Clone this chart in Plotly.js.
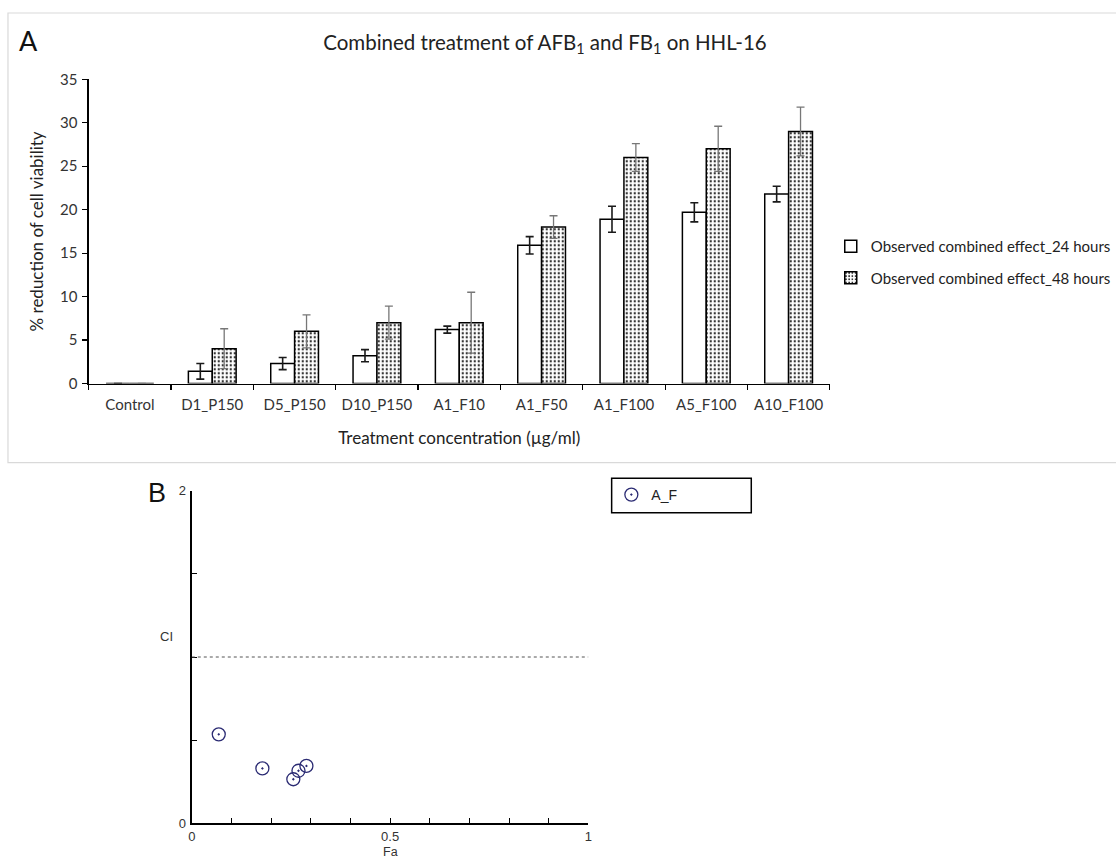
<!DOCTYPE html>
<html>
<head>
<meta charset="utf-8">
<script src="https://cdn.plot.ly/plotly-3.0.1.min.js"></script>
<style>
  html, body { margin: 0; padding: 0; background: #fff; }
  #chart { width: 1116px; height: 862px; }
</style>
</head>
<body>
<div id="chart"></div>
<script>
// ---- Panel A data ----
var categories = ["Control", "D1_P150", "D5_P150", "D10_P150", "A1_F10", "A1_F50", "A1_F100", "A5_F100", "A10_F100"];
var values24h = [0, 1.4, 2.3, 3.2, 6.2, 15.9, 18.9, 19.7, 21.8];
var errors24h = [0, 0.9, 0.7, 0.7, 0.4, 1.0, 1.5, 1.1, 0.9];
var values48h = [0, 4.0, 6.0, 7.0, 7.0, 18.0, 26.0, 27.0, 29.0];
var errors48h = [0, 2.3, 1.9, 1.9, 3.5, 1.3, 1.6, 2.6, 2.8];
var seriesNames = ["Observed combined effect_24 hours", "Observed combined effect_48 hours"];

// ---- Panel B data ----
var faValues = [0.068, 0.178, 0.256, 0.269, 0.289];
var ciValues = [0.535, 0.33, 0.265, 0.316, 0.345];
var seriesB = "A_F";
var xTicksB = [0, 0.1, 0.2, 0.3, 0.4, 0.5, 0.6, 0.7, 0.8, 0.9, 1];
var xTickTextB = ["0", " ", " ", " ", " ", "0.5", " ", " ", " ", " ", "1"];
var yTicksB = [0, 0.5, 1, 1.5, 2];
var yTickTextB = ["0", " ", " ", " ", "2"];

var W = 1116, H = 862;
function px(x) { return x / W; }
function py(y) { return 1 - y / H; }

var fontA = "Lato, 'Open Sans', sans-serif";
var fontB = "'Liberation Sans', Arial, sans-serif";

var traces = [
  {
    type: "bar", name: seriesNames[0], x: categories, y: values24h,
    xaxis: "x", yaxis: "y", legend: "legend", legendgroup: "g1",
    marker: { color: "#ffffff", line: { color: "#000000", width: 1.5 } },
    error_y: { type: "data", array: errors24h, visible: true, color: "#1a1a1a", thickness: 1.6, width: 4 },
    hoverinfo: "x+y"
  },
  {
    type: "bar", name: seriesNames[1], x: categories, y: values48h,
    xaxis: "x", yaxis: "y", legend: "legend", legendgroup: "g2",
    marker: {
      color: "#ffffff",
      line: { color: "#000000", width: 1.5 },
      pattern: { shape: ".", fgcolor: "#222222", bgcolor: "#ffffff", size: 4, solidity: 0.25 }
    },
    error_y: { type: "data", array: errors48h, visible: true, color: "#777777", thickness: 1.3, width: 4 },
    hoverinfo: "x+y"
  },
  {
    type: "scatter", mode: "markers", name: seriesB, x: faValues, y: ciValues,
    xaxis: "x2", yaxis: "y2", legend: "legend2",
    marker: { symbol: "circle-open-dot", size: 13, color: "#2b2b73", line: { width: 1.3, color: "#2b2b73" } }
  }
];

var layout = {
  width: W, height: H,
  margin: { l: 0, r: 0, t: 0, b: 0 },
  paper_bgcolor: "#ffffff",
  plot_bgcolor: "rgba(0,0,0,0)",
  barmode: "group",
  bargap: 0.42,
  bargroupgap: 0,
  title: {
    text: "Combined treatment of AFB<sub>1</sub> and FB<sub>1</sub> on HHL-16",
    x: px(545), y: py(43), xanchor: "center", yanchor: "middle",
    font: { family: fontA, size: 20.5, color: "#222222" }
  },
  xaxis: {
    domain: [px(89), px(832)], anchor: "y", type: "category",
    showline: true, linecolor: "#000000", linewidth: 1.3,
    ticks: "outside", tickson: "boundaries", ticklen: 5, tickcolor: "#000000", tickwidth: 1.2,
    ticklabelstandoff: 7,
    showgrid: false, zeroline: false,
    tickfont: { family: fontA, size: 15, color: "#333333" },
    title: { text: "Treatment concentration (µg/ml)", font: { family: fontA, size: 17, color: "#222222" }, standoff: 20 }
  },
  yaxis: {
    domain: [py(383.5), py(79.3)], anchor: "x", range: [0, 35], dtick: 5,
    showline: true, linecolor: "#000000", linewidth: 1.3,
    ticks: "outside", ticklen: 5, tickcolor: "#000000", tickwidth: 1.2,
    ticklabelstandoff: 2,
    showgrid: false, zeroline: false,
    tickfont: { family: fontA, size: 15, color: "#333333" },
    title: { text: "% reduction of cell viability", font: { family: fontA, size: 17, color: "#222222" }, standoff: 12 }
  },
  xaxis2: {
    domain: [px(192.3), px(590)], anchor: "y2", range: [0, 1],
    tickmode: "array", tickvals: xTicksB, ticktext: xTickTextB,
    showline: true, linecolor: "#000000", linewidth: 1.3,
    ticks: "inside", ticklen: 5, tickcolor: "#000000", tickwidth: 1,
    ticklabelstandoff: 1,
    showgrid: false, zeroline: false,
    tickfont: { family: fontB, size: 13, color: "#333333" }
  },
  yaxis2: {
    domain: [py(823.3), py(490.7)], anchor: "x2", range: [0, 2],
    tickmode: "array", tickvals: yTicksB, ticktext: yTickTextB,
    showline: true, linecolor: "#000000", linewidth: 1.3,
    ticks: "inside", ticklen: 5, tickcolor: "#000000", tickwidth: 1,
    ticklabelstandoff: 2,
    showgrid: false, zeroline: false,
    tickfont: { family: fontB, size: 13, color: "#333333" }
  },
  legend: {
    x: px(833), y: py(230), xanchor: "left", yanchor: "top",
    bgcolor: "rgba(0,0,0,0)", tracegroupgap: 9,
    font: { family: fontA, size: 15, color: "#222222" }
  },
  legend2: {
    x: px(613), y: py(495), xanchor: "left", yanchor: "middle",
    bgcolor: "rgba(0,0,0,0)",
    font: { family: fontB, size: 14, color: "#222222" }
  },
  shapes: [
    { type: "rect", xref: "paper", yref: "paper", x0: px(8), x1: 1.005, y0: py(462.7), y1: py(13),
      line: { color: "#d9d9d9", width: 1.2 }, fillcolor: "rgba(0,0,0,0)", layer: "below" },
    { type: "rect", xref: "paper", yref: "paper", x0: px(613.3), x1: px(753.3), y0: py(512.7), y1: py(478.3),
      line: { color: "#000000", width: 1.5 }, fillcolor: "rgba(0,0,0,0)" },
    { type: "line", xref: "x2", yref: "y2", x0: 0, x1: 1, y0: 1, y1: 1,
      line: { color: "#555555", width: 1, dash: "dot" } }
  ],
  annotations: [
    { text: "A", xref: "paper", yref: "paper", x: px(29), y: py(40), xanchor: "center", yanchor: "middle",
      showarrow: false, font: { family: fontA, size: 27, color: "#111111" } },
    { text: "B", xref: "paper", yref: "paper", x: px(157), y: py(493), xanchor: "center", yanchor: "middle",
      showarrow: false, font: { family: fontB, size: 27, color: "#111111" } },
    { text: "CI", xref: "paper", yref: "paper", x: px(167), y: py(636), xanchor: "center", yanchor: "middle",
      showarrow: false, font: { family: fontB, size: 13, color: "#333333" } },
    { text: "Fa", xref: "x2", yref: "paper", x: 0.5, y: py(852), xanchor: "center", yanchor: "middle",
      showarrow: false, borderpad: 0, font: { family: fontB, size: 12.5, color: "#333333" } }
  ]
};

Plotly.newPlot("chart", traces, layout, { displayModeBar: false, staticPlot: true });
</script>
</body>
</html>
